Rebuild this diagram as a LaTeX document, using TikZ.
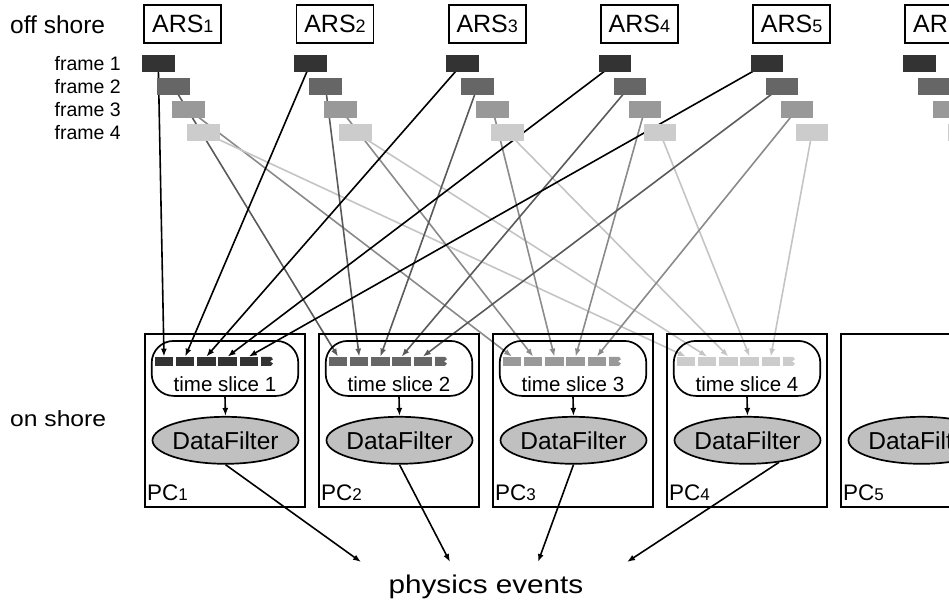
\documentclass[tikz,border=0pt]{standalone}
\usepackage{fontspec}
\setmainfont{Liberation Sans}
\usetikzlibrary{arrows.meta,shapes.geometric,backgrounds}
\definecolor{c1}{HTML}{333333}
\definecolor{c2}{HTML}{666666}
\definecolor{c3}{HTML}{999999}
\definecolor{c4}{HTML}{CCCCCC}
\definecolor{l1}{HTML}{000000}
\definecolor{l2}{HTML}{5A5A5A}
\definecolor{l3}{HTML}{8A8A8A}
\definecolor{l4}{HTML}{C4C4C4}
\definecolor{dfgray}{HTML}{C0C0C0}
\newcommand{\myfs}[1]{\fontsize{#1}{#1}\selectfont}
\begin{document}
\begin{tikzpicture}[x=1pt,y=-1pt,
  arsbox/.style={draw, line width=1.7pt, minimum width=77pt, minimum height=38pt, inner sep=0pt, font=\myfs{25}},
  frm/.style={fill=#1, minimum width=32.5pt, minimum height=16.7pt, inner sep=0pt},
  pcbox/.style={draw, line width=1.7pt, minimum width=160pt, minimum height=173pt, inner sep=0pt},
  tsbox/.style={draw, line width=1.7pt, rounded corners=22pt, minimum width=146.6pt, minimum height=55pt, inner sep=0pt},
  slot/.style={fill=#1, minimum width=18.3pt, minimum height=9pt, inner sep=0pt},
  dfnode/.style={ellipse, draw, line width=1.7pt, fill=dfgray, minimum width=146pt, minimum height=47pt, inner sep=0pt, font=\myfs{24.5}},
  conn/.style={line width=1.6pt, -{Latex[length=8pt,width=6pt]}},
  lbl/.style={inner sep=0pt}
]
\useasboundingbox (0,0) rectangle (949,603);
\clip (0,0) rectangle (949,603);

% left labels
\node[lbl, font=\myfs{24.5}, anchor=base west] (offshore) at (10,33.3) {off shore};
\node[lbl, font=\myfs{22}, anchor=base west, xscale=1.12] (onshore) at (10,426.7) {on shore};
\foreach \k in {1,...,4}
  \node[lbl, font=\myfs{19.5}, anchor=east] (fl\k) at (121,{63.5+23*(\k-1)}) {frame \k};

% ARS boxes and frames
\foreach \i in {1,...,6} {
  \node[arsbox] (ars\i) at ({182.8+152.2*(\i-1)},24) {ARS{\myfs{18}\i}};
  \foreach \k/\c in {1/c1,2/c2,3/c3,4/c4}
    \node[frm=\c] (f\i-\k) at ({158.25+152.2*(\i-1)+15*(\k-1)},{63.35+23*(\k-1)}) {};
}

% PC boxes
\foreach \j in {1,...,5} {
  \node[pcbox] (pc\j) at ({225+174*(\j-1)},420.5) {};
  \node[dfnode] (df\j) at ({225.5+174*(\j-1)},440.3) {\makebox[0pt]{DataFilter}};
  \node[lbl, font=\myfs{22.5}, anchor=base west] (pcl\j) at ({147+174*(\j-1)},500) {PC{\myfs{17}\j}};
}

% time slices
\foreach \j/\c in {1/c1,2/c2,3/c3,4/c4} {
  \node[tsbox] (ts\j) at ({225+174*(\j-1)},368.4) {};
  \foreach \s in {1,...,5}
    \node[slot=\c] (s\j-\s) at ({164+21.2*(\s-1)+174*(\j-1)},361.3) {};
  \fill[\c, shift={({174*(\j-1)},0)}] (261,356.8) -- (271,356.8) -- (273,359.3) -- (270,361.3) -- (273,363.5) -- (271,365.8) -- (261,365.8) -- cycle;
  \node[lbl, font=\myfs{20.5}, anchor=base] (tst\j) at ({225+174*(\j-1)},391.5) {time slice \j};
  \draw[conn] (ts\j.south) -- (df\j.north);
}

% frame connectors (behind frames)
\begin{scope}[on background layer]
\foreach \i in {1,...,5}
  \foreach \k/\lc in {1/l1,2/l2,3/l3,4/l4}
    \draw[conn, \lc] (f\i-\k.center) -- (s\k-\i.north);
\end{scope}

% physics events
\coordinate (p1) at (361,562);
\coordinate (p2) at (450,562);
\coordinate (p3) at (538,562);
\coordinate (p4) at (627,562);
\draw[conn] (df1.south) -- (p1);
\draw[conn] (df2.south) -- (p2);
\draw[conn] (df3.south) -- (p3);
\draw[conn] (df4.-35) -- (p4);
\node[lbl, font=\myfs{25.6}, anchor=base, xscale=1.16] (phys) at (486,593.3) {physics events};
\end{tikzpicture}
\end{document}
